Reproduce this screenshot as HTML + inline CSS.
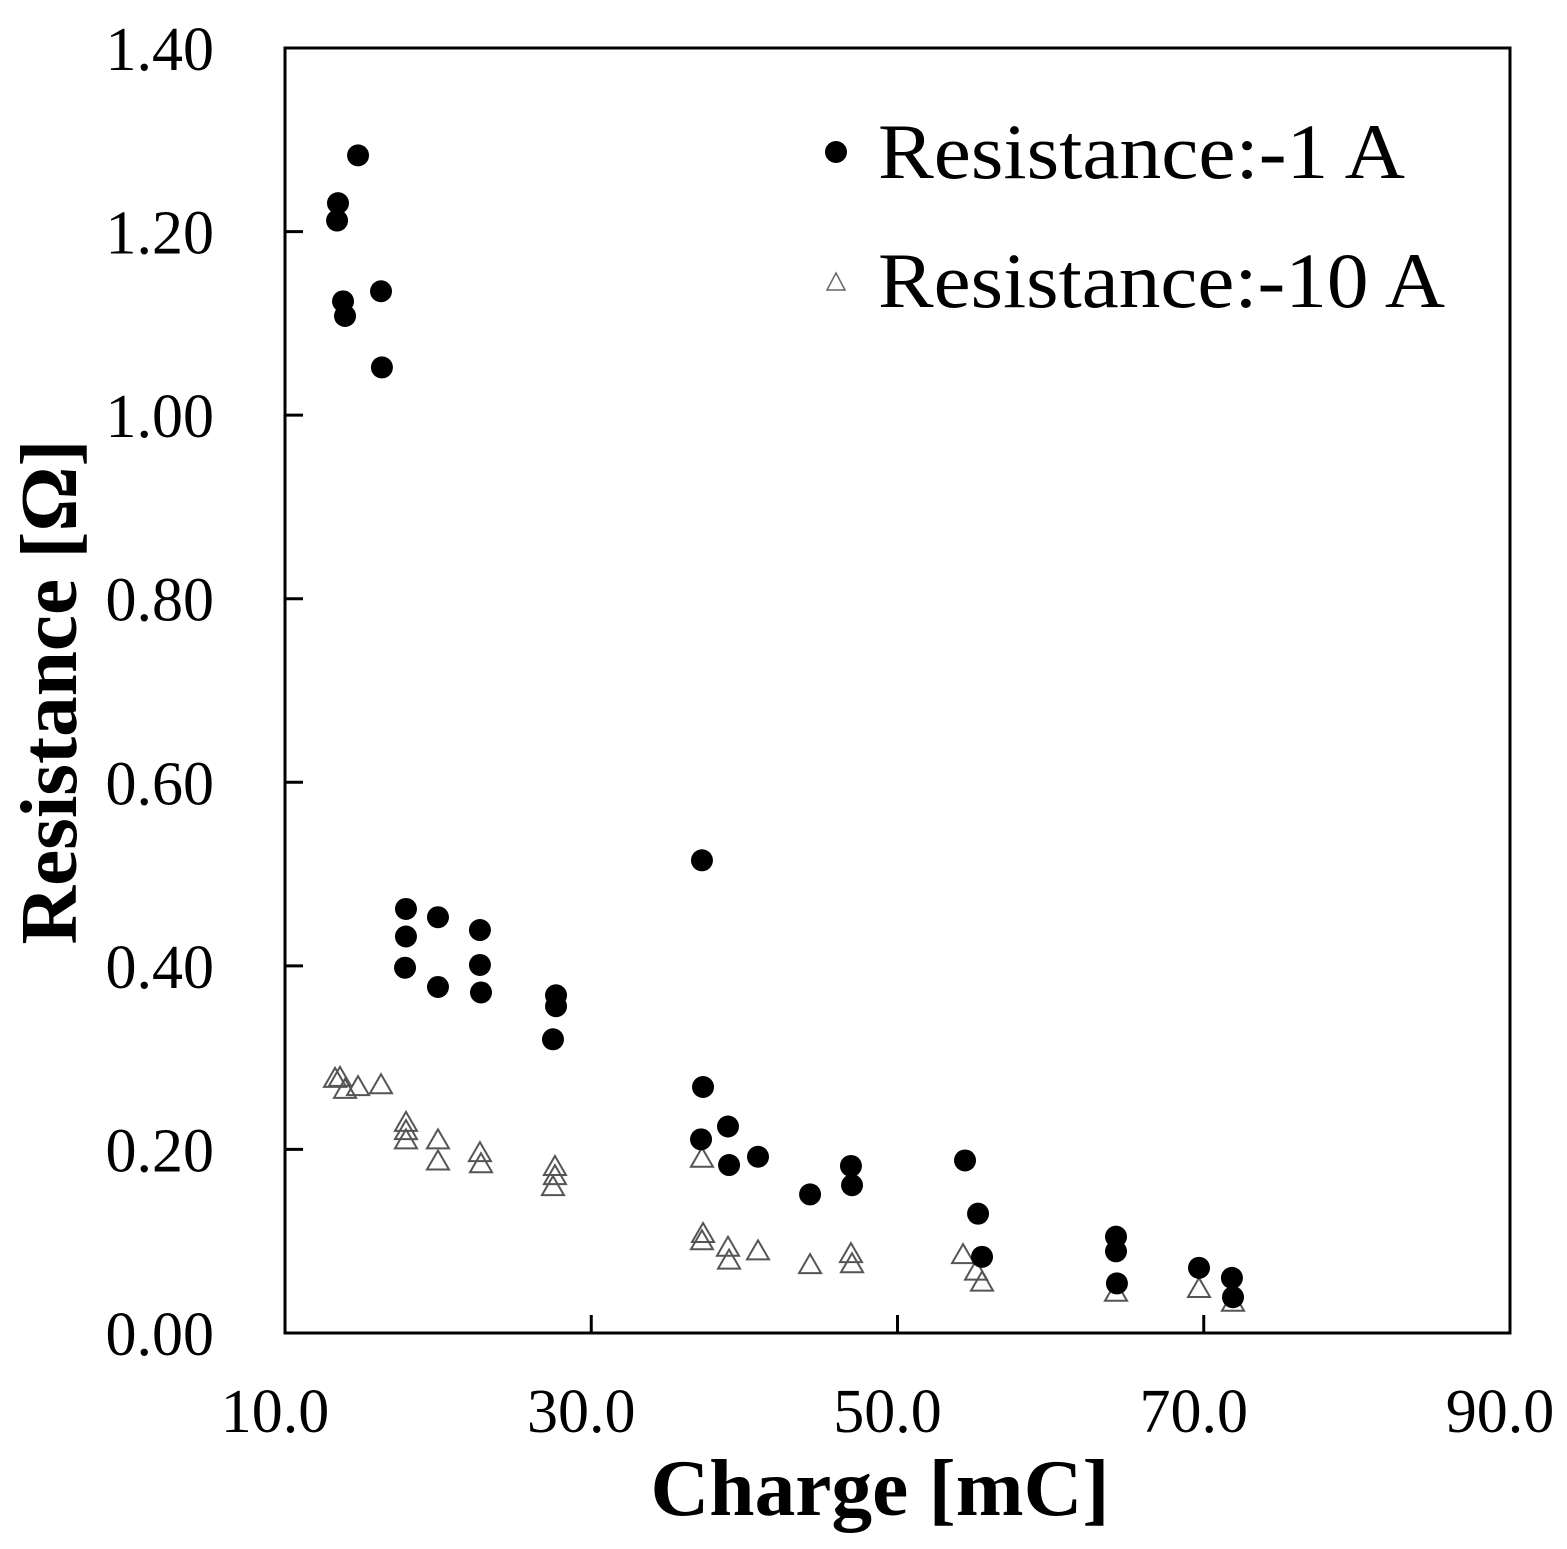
<!DOCTYPE html>
<html><head><meta charset="utf-8"><style>
html,body{margin:0;padding:0;background:#fff;}
svg{display:block;font-family:"Liberation Serif",serif;}
</style></head><body>
<svg id="chart" width="1567" height="1549" viewBox="0 0 1567 1549" xmlns="http://www.w3.org/2000/svg">
<rect x="285" y="48" width="1225" height="1285" fill="none" stroke="#000" stroke-width="3"/>
<g id="ticks"></g>
<g id="marks"></g>
<text x="880" y="1515" text-anchor="middle" font-weight="bold" font-size="80" textLength="459" lengthAdjust="spacingAndGlyphs">Charge [mC]</text>
<text transform="translate(76,692) rotate(-90)" text-anchor="middle" font-weight="bold" font-size="80" textLength="505" lengthAdjust="spacingAndGlyphs">Resistance [Ω]</text>
<g>
<circle cx="836" cy="152" r="11" fill="#000"/>
<text x="878" y="178" font-size="78" textLength="527" lengthAdjust="spacingAndGlyphs">Resistance:-1 A</text>
<path d="M836,273 L845,290 L827,290 Z" fill="#fff" stroke="#666" stroke-width="1.5"/>
<text x="878" y="307" font-size="78" textLength="567" lengthAdjust="spacingAndGlyphs">Resistance:-10 A</text>
</g>
</svg>
<script>
const xTicks=[10,30,50,70,90];
const xTickLabels=["10.0","30.0","50.0","70.0","90.0"];
const yTicks=[0,0.2,0.4,0.6,0.8,1.0,1.2,1.4];
const yTickLabels=["0.00","0.20","0.40","0.60","0.80","1.00","1.20","1.40"];
const x1A=[13.40,13.46,14.77,13.79,13.92,16.27,16.33,17.90,17.90,17.84,19.99,19.99,22.73,22.73,22.80,27.70,27.70,27.50,37.23,37.30,37.17,38.93,39.00,40.89,44.29,46.96,47.03,54.41,55.26,55.52,64.27,64.27,64.33,69.69,71.84,71.91];
const y1A=[1.212,1.231,1.283,1.124,1.108,1.135,1.052,0.462,0.432,0.398,0.453,0.377,0.439,0.401,0.371,0.368,0.356,0.320,0.515,0.268,0.211,0.225,0.183,0.192,0.151,0.182,0.161,0.188,0.130,0.083,0.105,0.089,0.054,0.071,0.060,0.039];
const x10A=[13.27,13.59,13.92,14.77,16.27,17.90,17.90,17.90,19.99,19.99,22.73,22.80,27.63,27.63,27.50,37.23,37.30,37.23,38.93,39.00,40.89,44.29,46.96,47.03,54.28,55.13,55.52,64.27,69.69,71.91];
const y10A=[0.278,0.279,0.266,0.269,0.271,0.230,0.221,0.211,0.211,0.188,0.197,0.185,0.182,0.172,0.160,0.191,0.109,0.101,0.094,0.080,0.090,0.075,0.087,0.076,0.086,0.068,0.056,0.045,0.049,0.034];
const NS="http://www.w3.org/2000/svg";
const X0=285,X1=1510,Y0=1333,Y1=48;
function sx(v){return X0+(v-10)/80*(X1-X0);}
function sy(v){return Y0-(v/1.4)*(Y0-Y1);}
function mk(t,a){const e=document.createElementNS(NS,t);for(const k in a)e.setAttribute(k,a[k]);return e;}
const tg=document.getElementById('ticks');
xTicks.forEach((v,i)=>{
  const x=sx(v);
  if(i>0&&i<xTicks.length-1){const l=mk('line',{x1:x,x2:x,y1:Y0,y2:Y0-18,stroke:'#000','stroke-width':3});
  
  
  tg.appendChild(l);}
  const t=mk('text',{x:x-10,y:1432,'text-anchor':'middle','font-size':62});
  t.textContent=xTickLabels[i];
  
  
  tg.appendChild(t);
});
yTicks.forEach((v,i)=>{
  const y=sy(v);
  if(i>0&&i<yTicks.length-1){const l=mk('line',{x1:X0,x2:X0+18,y1:y,y2:y,stroke:'#000','stroke-width':3});
  
  
  tg.appendChild(l);}
  const t=mk('text',{x:214,y:y+22,'text-anchor':'end','font-size':62});
  t.textContent=yTickLabels[i];
  
  
  tg.appendChild(t);
});
const mg=document.getElementById('marks');
x10A.forEach((v,i)=>{
  const x=sx(v),y=sy(y10A[i]);
  const p=mk('path',{d:`M${x},${y-10} L${x+11},${y+9} L${x-11},${y+9} Z`,fill:'none',stroke:'#555','stroke-width':2});
  
  
  mg.appendChild(p);
});
x1A.forEach((v,i)=>{
  const c=mk('circle',{cx:sx(v),cy:sy(y1A[i]),r:11,fill:'#000'});
  
  
  mg.appendChild(c);
});
</script>
</body></html>
